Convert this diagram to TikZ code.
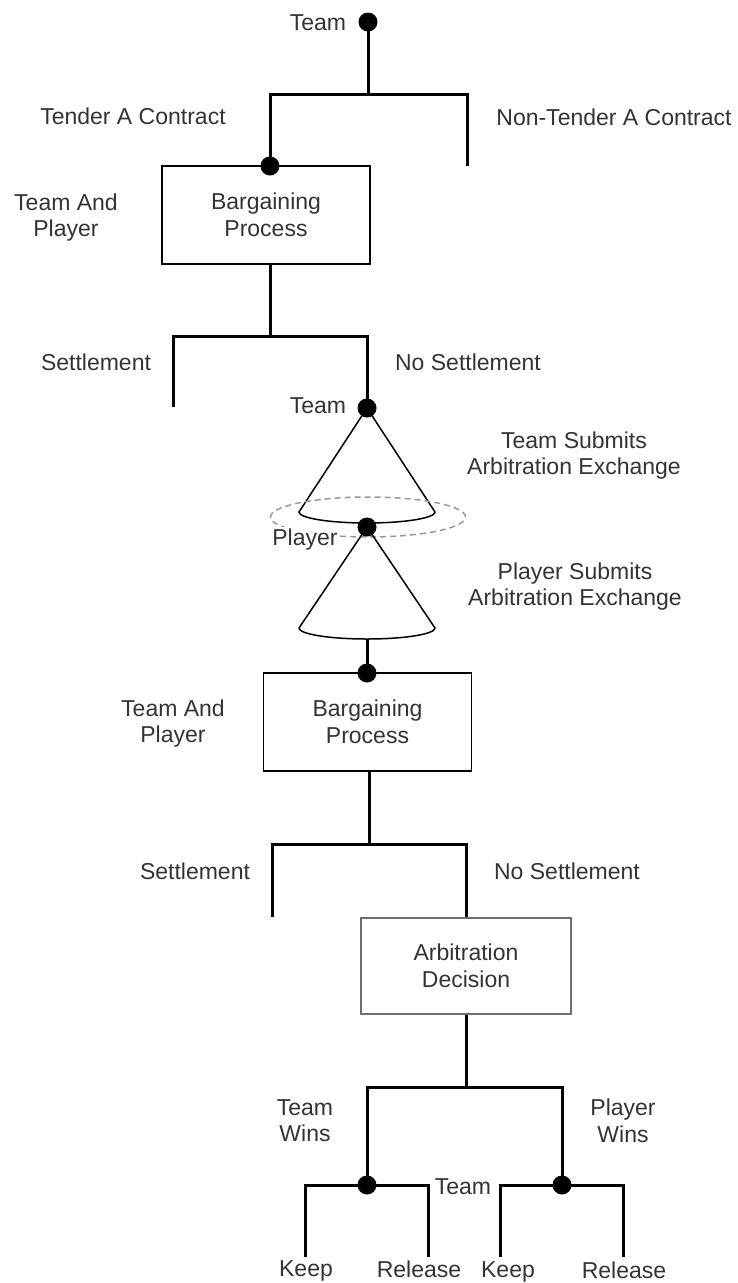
\documentclass[tikz,border=0pt]{standalone}
\usepackage{fontspec}
\setmainfont{Liberation Sans}
\usetikzlibrary{backgrounds}
\definecolor{labelgray}{HTML}{333333}
\definecolor{ringgray}{HTML}{999999}
\definecolor{framegray}{HTML}{6E6E6E}
\begin{document}
\begin{tikzpicture}[x=1pt,y=-1pt,
  txt/.style={text=labelgray,font=\fontsize{23}{26.5}\selectfont,align=center,inner sep=0pt},
  oneline/.style={txt,anchor=base},
  stage/.style={txt,draw=black,line width=1.6pt,minimum width=208pt,minimum height=98pt},
  knot/.style={circle,fill=black,inner sep=0pt,minimum size=19pt},
  branch/.style={line width=3pt},
  cone/.style={line width=1.5pt},
  ring/.style={draw=ringgray,line width=1.5pt,dash pattern=on 6pt off 4pt}]
\useasboundingbox (0,0) rectangle (738,1283);

% stages and decision points
\node[knot] (d0) at (368,22) {};
\node[stage] (b1) at (266,215) {Bargaining\\Process};
\node[knot] (d1) at (270,166) {};
\node[knot] (d2) at (367,408) {};
\node[knot] (d3) at (367,527) {};
\node[knot] (d4) at (367,673) {};
\node[stage] (b2) at (367.5,722) {Bargaining\\Process};
\node[stage,draw=framegray,minimum width=210pt,minimum height=96pt] (b3) at (466,966) {Arbitration\\Decision};
\node[knot] (d5) at (367,1185) {};
\node[knot] (d6) at (562,1185) {};

% junctions and loose branch ends
\coordinate (j0) at (368,94);
\coordinate (n0) at (467,166);
\coordinate (j1) at (270,336);
\coordinate (s1) at (173,407);
\coordinate (c1) at (299,512);
\coordinate (c2) at (299,628);
\coordinate (c2b) at (367,639);
\coordinate (j2) at (369,844);
\coordinate (s2) at (272,917);
\coordinate (j3) at (466,1087);
\coordinate (k1) at (305,1257);
\coordinate (r1) at (428,1257);
\coordinate (k2) at (500,1257);
\coordinate (r2) at (623,1257);

\begin{scope}[on background layer]
  \draw[branch] (d0.center) -- (j0) -| (d1.center);
  \draw[branch] (j0) -| (n0);
  \draw[branch] (b1.south -| j1) -- (j1);
  \draw[branch] (s1) |- (j1) -| (d2.center);
  \draw[cone] (d2.center) -- (c1) arc[start angle=180,end angle=360,x radius=68pt,y radius=11pt] -- cycle;
  \draw[ring] (368,517) ellipse[x radius=97.5pt,y radius=20pt];
  \draw[cone] (d3.center) -- (c2) arc[start angle=180,end angle=360,x radius=68pt,y radius=11pt] -- cycle;
  \draw[branch] (c2b) -- (d4.center);
  \draw[branch] (b2.south -| j2) -- (j2);
  \draw[branch] (s2) |- (j2) -| (b3.north);
  \draw[branch] (b3.south) -- (j3);
  \draw[branch] (d5.center) |- (j3) -| (d6.center);
  \draw[branch] (k1) |- (d5.center) -| (r1);
  \draw[branch] (k2) |- (d6.center) -| (r2);
\end{scope}

% labels
\node[oneline] (t0) at (318,30) {Team};
\node[oneline] (l1) at (133,124) {Tender A Contract};
\node[oneline] (l2) at (614,125) {Non-Tender A Contract};
\node[txt] (l3) at (66,217.3) {Team And\\Player};
\node[oneline] (l4) at (96,370) {Settlement};
\node[oneline] (l5) at (468,370) {No Settlement};
\node[oneline] (t1) at (318,413) {Team};
\node[txt] (l6) at (574,455.3) {Team Submits\\Arbitration Exchange};
\node[oneline,fill=white,inner sep=1pt] (p1) at (305,545) {Player};
\node[txt] (l7) at (575,586.3) {Player Submits\\Arbitration Exchange};
\node[txt] (l8) at (173,723.3) {Team And\\Player};
\node[oneline] (l9) at (195,879) {Settlement};
\node[oneline] (l10) at (567,879) {No Settlement};
\node[txt] (l11) at (305,1120.9) {Team\\Wins};
\node[txt] (l12) at (623,1120.9) {Player\\Wins};
\node[oneline] (t2) at (463,1194) {Team};
\node[oneline] (o1) at (306,1276) {Keep};
\node[oneline] (o2) at (419,1277) {Release};
\node[oneline] (o3) at (508,1277) {Keep};
\node[oneline] (o4) at (624,1278) {Release};
\end{tikzpicture}
\end{document}
